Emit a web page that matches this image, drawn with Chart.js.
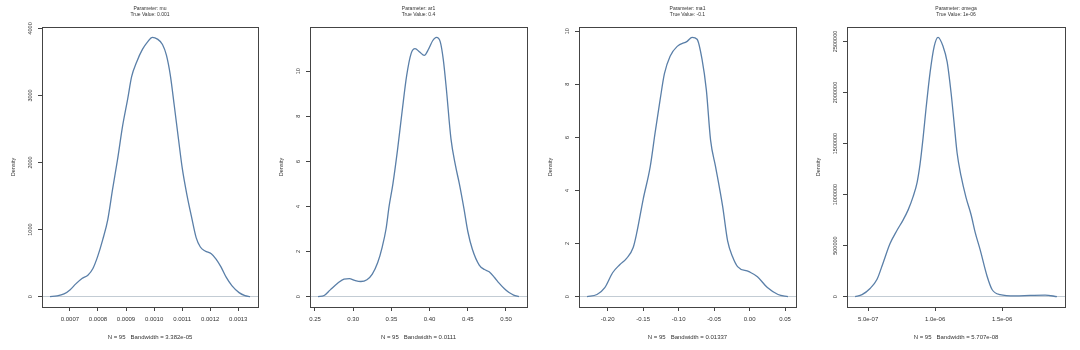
<!DOCTYPE html>
<html>
<head>
<meta charset="utf-8">
<title>Parameter densities</title>
<script src="https://cdn.jsdelivr.net/npm/chart.js"></script>
<style>
  body { margin: 0; background: #fff; }
  #wrap { position: relative; width: 1080px; height: 350px; }
  canvas { position: absolute; top: 0; }
</style>
</head>
<body>
<div id="wrap">
  <canvas id="mu" width="270" height="350" style="left:0px"></canvas>
  <canvas id="ar1" width="270" height="350" style="left:270px"></canvas>
  <canvas id="ma1" width="270" height="350" style="left:540px"></canvas>
  <canvas id="omega" width="270" height="350" style="left:810px"></canvas>
</div>
<script>
// kernel density estimates (N = 95) for each parameter
var muX = [0.000629, 0.000654, 0.000679, 0.000700, 0.000721, 0.000743, 0.000764, 0.000782, 0.000799, 0.000817,
           0.000835, 0.000852, 0.000870, 0.000888, 0.000906, 0.000920, 0.000938, 0.000959, 0.000977, 0.000994,
           0.001012, 0.001030, 0.001044, 0.001058, 0.001072, 0.001087, 0.001101, 0.001118, 0.001133, 0.001150,
           0.001165, 0.001182, 0.001204, 0.001221, 0.001239, 0.001257, 0.001278, 0.001303, 0.001324, 0.001342];
var muY = [0, 10, 40, 100, 190, 270, 320, 420, 600, 850,
           1150, 1600, 2050, 2550, 2950, 3280, 3500, 3690, 3800, 3866,
           3840, 3760, 3600, 3300, 2850, 2350, 1900, 1500, 1200, 880,
           740, 680, 640, 560, 440, 290, 160, 60, 15, 0];

var ar1X = [0.254, 0.262, 0.270, 0.280, 0.288, 0.295, 0.302, 0.310, 0.318, 0.325,
            0.332, 0.338, 0.343, 0.347, 0.352, 0.358, 0.364, 0.370, 0.376, 0.381,
            0.387, 0.393, 0.399, 0.404, 0.409, 0.414, 0.418, 0.422, 0.428, 0.434,
            0.439, 0.445, 0.450, 0.456, 0.465, 0.472, 0.478, 0.485, 0.491, 0.498,
            0.504, 0.510, 0.517];
var ar1Y = [0, 0.05, 0.3, 0.6, 0.78, 0.8, 0.72, 0.67, 0.75, 1.0,
            1.5, 2.2, 3.0, 4.0, 5.0, 6.5, 8.2, 9.8, 10.8, 11.0,
            10.85, 10.7, 11.0, 11.35, 11.5, 11.3, 10.5, 9.2, 7.0, 5.8,
            5.0, 3.9, 2.9, 2.1, 1.4, 1.2, 1.1, 0.85, 0.6, 0.35,
            0.18, 0.07, 0];

var ma1X = [-0.229, -0.215, -0.204, -0.193, -0.183, -0.173, -0.164, -0.159, -0.150, -0.140,
            -0.133, -0.126, -0.120, -0.112, -0.102, -0.088, -0.081, -0.074, -0.067, -0.061,
            -0.055, -0.048, -0.038, -0.031, -0.024, -0.017, -0.001, 0.011, 0.025, 0.040,
            0.054];
var ma1Y = [0, 0.08, 0.34, 0.9, 1.2, 1.45, 1.85, 2.4, 3.66, 4.9,
            6.2, 7.43, 8.4, 9.06, 9.43, 9.62, 9.77, 9.7, 8.94, 7.8,
            5.9, 4.9, 3.4, 2.1, 1.5, 1.13, 0.94, 0.75, 0.34, 0.08,
            0];

var omegaX = [4.03e-7, 4.55e-7, 5.15e-7, 5.67e-7, 6.12e-7, 6.64e-7, 7.16e-7, 7.61e-7, 7.99e-7, 8.36e-7,
              8.66e-7, 8.88e-7, 9.10e-7, 9.33e-7, 9.63e-7, 9.93e-7, 1.022e-6, 1.060e-6, 1.090e-6, 1.119e-6,
              1.142e-6, 1.164e-6, 1.194e-6, 1.231e-6, 1.269e-6, 1.299e-6, 1.336e-6, 1.388e-6, 1.425e-6, 1.485e-6,
              1.597e-6, 1.709e-6, 1.821e-6, 1.909e-6];
var omegaY = [0, 20000, 80000, 170000, 330000, 520000, 650000, 750000, 850000, 980000,
              1120000, 1300000, 1550000, 1850000, 2200000, 2450000, 2540000, 2450000, 2300000, 2000000,
              1700000, 1410000, 1180000, 970000, 800000, 630000, 460000, 200000, 70000, 20000,
              8000, 12000, 15000, 0];

// axis ticks
var muXTicks = [0.0007, 0.0008, 0.0009, 0.0010, 0.0011, 0.0012, 0.0013];
var muXLabels = ["0.0007", "0.0008", "0.0009", "0.0010", "0.0011", "0.0012", "0.0013"];
var muYTicks = [0, 1000, 2000, 3000, 4000];
var muYLabels = ["0", "1000", "2000", "3000", "4000"];

var ar1XTicks = [0.25, 0.30, 0.35, 0.40, 0.45, 0.50];
var ar1XLabels = ["0.25", "0.30", "0.35", "0.40", "0.45", "0.50"];
var ar1YTicks = [0, 2, 4, 6, 8, 10];
var ar1YLabels = ["0", "2", "4", "6", "8", "10"];

var ma1XTicks = [-0.20, -0.15, -0.10, -0.05, 0.00, 0.05];
var ma1XLabels = ["-0.20", "-0.15", "-0.10", "-0.05", "0.00", "0.05"];
var ma1YTicks = [0, 2, 4, 6, 8, 10];
var ma1YLabels = ["0", "2", "4", "6", "8", "10"];

var omegaXTicks = [5e-7, 1e-6, 1.5e-6];
var omegaXLabels = ["5.0e-07", "1.0e-06", "1.5e-06"];
var omegaYTicks = [0, 500000, 1000000, 1500000, 2000000, 2500000];
var omegaYLabels = ["0", "500000", "1000000", "1500000", "2000000", "2500000"];

// titles
var titles = [
    ["Parameter: mu", "True Value: 0.001"],
    ["Parameter: ar1", "True Value: 0.4"],
    ["Parameter: ma1", "True Value: -0.1"],
    ["Parameter: omega", "True Value: 1e-06"]
];
var subtitles = [
    "N = 95   Bandwidth = 3.382e-05",
    "N = 95   Bandwidth = 0.0111",
    "N = 95   Bandwidth = 0.01337",
    "N = 95   Bandwidth = 5.707e-08"
];


var FONT = '"Liberation Sans", Arial, sans-serif';
var INK = "#333";
Chart.defaults.font.family = FONT;
Chart.defaults.color = INK;

// the plot frame round the chart area
var boxPlugin = {
    id: "box",
    afterDraw: function (chart) {
        var a = chart.chartArea, ctx = chart.ctx;
        ctx.save();
        ctx.strokeStyle = "#444";
        ctx.lineWidth = 1;
        ctx.strokeRect(Math.round(a.left) + 0.5, Math.round(a.top) + 0.5,
            Math.round(a.right - a.left), Math.round(a.bottom - a.top));
        ctx.restore();
    }
};

var measure = document.createElement("canvas").getContext("2d");
function widest(labels, size) {
    measure.font = size + "px " + FONT;
    var w = 0;
    labels.forEach(function (l) { w = Math.max(w, measure.measureText(l).width); });
    return w;
}

function densityPlot(id, xs, ys, xTicks, xLabels, yTicks, yLabels, title, subtitle, boxLeft, boxRight) {
    var points = xs.map(function (x, i) { return {x: x, y: ys[i]}; });
    var xMin = Math.min.apply(null, xs), xMax = Math.max.apply(null, xs);
    var yMax = Math.max.apply(null, ys);
    var xPad = (xMax - xMin) * 0.04;

    new Chart(document.getElementById(id).getContext("2d"), {
        type: "line",
        data: {
            datasets: [{
                data: points,
                borderColor: "#5a7fa8",
                borderWidth: 1.3,
                pointRadius: 0,
                cubicInterpolationMode: "monotone",
                fill: false
            }]
        },
        plugins: [boxPlugin],
        options: {
            responsive: false,
            animation: false,
            layout: {padding: {left: 0, right: 270 - boxRight, top: 0, bottom: 0}},
            plugins: {
                legend: {display: false},
                tooltip: {enabled: false},
                title: {
                    display: true,
                    text: title,
                    fullSize: false,
                    color: INK,
                    font: {size: 5, weight: "normal", lineHeight: 1.2},
                    padding: {top: 5.3, bottom: 9.7}
                },
                subtitle: {
                    display: true,
                    text: subtitle,
                    position: "bottom",
                    fullSize: false,
                    color: INK,
                    font: {size: 6, lineHeight: 1.2},
                    padding: {top: 0, bottom: 9.4}
                }
            },
            scales: {
                x: {
                    type: "linear",
                    min: xMin - xPad,
                    max: xMax + xPad,
                    border: {display: false},
                    grid: {drawOnChartArea: false, tickLength: 4, tickColor: "#444"},
                    afterBuildTicks: function (s) {
                        s.ticks = xTicks.map(function (v) { return {value: v}; });
                    },
                    afterFit: function (s) { s.height = 26.4; },
                    ticks: {
                        font: {size: 6},
                        color: INK,
                        padding: 5,
                        maxRotation: 0,
                        autoSkip: false,
                        callback: function (v, i) { return xLabels[i]; }
                    }
                },
                y: {
                    type: "linear",
                    min: -yMax * 0.04,
                    max: yMax * 1.04,
                    border: {display: false},
                    grid: {
                        drawOnChartArea: true,
                        tickLength: 4,
                        tickColor: "#444",
                        color: function (c) { return c.tick && c.tick.value === 0 ? "#c3ccd4" : "rgba(0,0,0,0)"; }
                    },
                    afterBuildTicks: function (s) {
                        s.ticks = yTicks.map(function (v) { return {value: v}; });
                    },
                    afterFit: function (s) { s.width = boxLeft; },
                    title: {
                        display: true,
                        text: "Density",
                        color: INK,
                        font: {size: 5.5, lineHeight: 1.2},
                        padding: {top: boxLeft - 31.8, bottom: 0}
                    },
                    ticks: {
                        font: {size: 5.5},
                        color: INK,
                        minRotation: 90,
                        maxRotation: 90,
                        crossAlign: "center",
                        padding: 8 - widest(yLabels, 5.5) / 2,
                        autoSkip: false,
                        callback: function (v, i) { return yLabels[i]; }
                    }
                }
            }
        }
    });
}

densityPlot("mu", muX, muY, muXTicks, muXLabels, muYTicks, muYLabels, titles[0], subtitles[0], 42, 258);
densityPlot("ar1", ar1X, ar1Y, ar1XTicks, ar1XLabels, ar1YTicks, ar1YLabels, titles[1], subtitles[1], 40, 257);
densityPlot("ma1", ma1X, ma1Y, ma1XTicks, ma1XLabels, ma1YTicks, ma1YLabels, titles[2], subtitles[2], 39, 256);
densityPlot("omega", omegaX, omegaY, omegaXTicks, omegaXLabels, omegaYTicks, omegaYLabels, titles[3], subtitles[3], 37, 255);
</script>
</body>
</html>
